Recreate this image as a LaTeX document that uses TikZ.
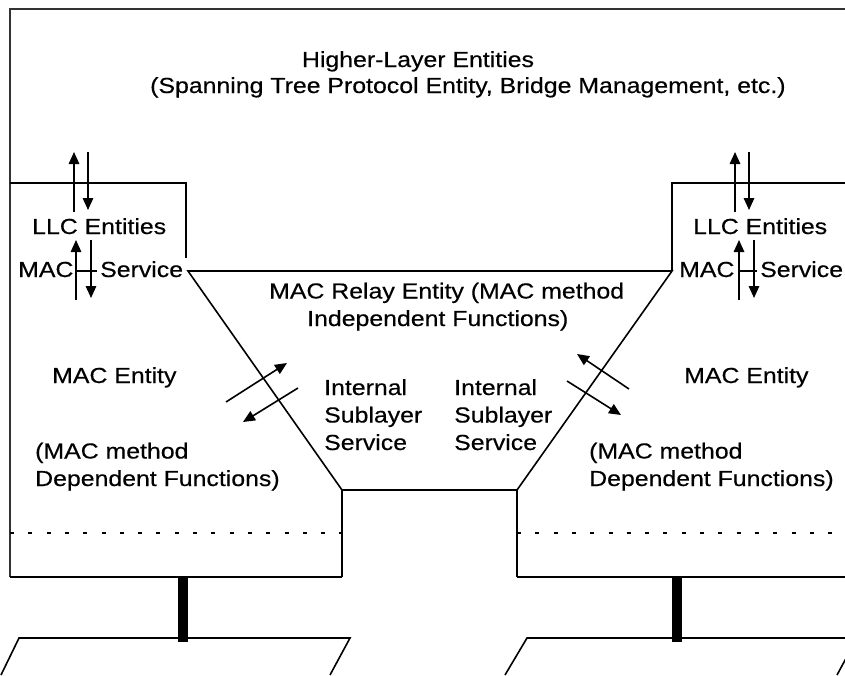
\documentclass[tikz,border=0pt]{standalone}
\usepackage{fontspec}
\setmainfont[FakeStretch=1.14,FakeBold=0.4]{Liberation Sans}
\usetikzlibrary{arrows.meta}
\begin{document}
\begin{tikzpicture}[x=1pt,y=-1pt,
  line/.style={line width=1.6pt, line join=miter},
  frame/.style={line width=1.9pt, draw=black!80},
  sig/.style={line width=1.6pt, -{Triangle[length=12pt,width=10.5pt]}},
  lbl/.style={inner sep=0pt, anchor=base west, align=left,
    font=\fontsize{21.8pt}{27.5pt}\selectfont},
  dots/.style={line width=1.6pt, dash pattern=on 4pt off 14.3pt},
  bar/.style={fill=black},
]
\useasboundingbox (0,0) rectangle (845,675);

% outer bridge frame
\draw[frame] (10,577) -- (10,9) -- (845,9);

% left port box
\draw[line] (10,183) -- (186,183) -- (186,258);
\draw[line] (10,577) -- (342,577);
% right port box
\draw[line] (845,183) -- (672,183) -- (672,271);
\draw[line] (517,577) -- (845,577);

% relay entity trapezoid
\coordinate (ta) at (188,271);
\coordinate (tb) at (672,271);
\coordinate (tc) at (517,490);
\coordinate (td) at (342,490);
\draw[line] (ta) -- (tb) -- (tc) -- (td) -- cycle;
\draw[line] (td) -- (342,577);
\draw[line] (tc) -- (517,577);

% physical layer boundaries
\draw[dots] (10,533) -- (342,533);
\draw[dots] (517,533) -- (845,533);

% attachments to the LANs
\fill[bar] (178,577) rectangle (188,642);
\fill[bar] (672,577) rectangle (682,642);
\draw[line] (1,675) -- (19,638) -- (350,638) -- (330,675);
\draw[line] (505,675) -- (527,638) -- (857,638) -- (837,675);

% texts (multi-line nodes are placed by the baseline of their last line)
\node[lbl, anchor=base] (hle) at (418,67) {Higher-Layer Entities};
\node[lbl] (hle2) at (150,93) {(Spanning Tree Protocol Entity, Bridge Management, etc.)};

\node[lbl] (llcL) at (32,234) {LLC Entities};
\node[lbl] (macL) at (18,277) {MAC};
\node[lbl] (svcL) at (100,277) {Service};
\node[lbl] (llcR) at (693,234) {LLC Entities};
\node[lbl] (macR) at (679,277) {MAC};
\node[lbl] (svcR) at (760,277) {Service};

\node[lbl] (relay) at (269,326) {MAC Relay Entity (MAC method\\\hspace*{38pt}Independent Functions)};

\node[lbl] (meL) at (52,383) {MAC Entity};
\node[lbl] (meR) at (684,383) {MAC Entity};
\node[lbl] (issL) at (324,450) {Internal\\Sublayer\\Service};
\node[lbl] (issR) at (454,450) {Internal\\Sublayer\\Service};
\node[lbl] (mdL) at (35,486) {(MAC method\\Dependent Functions)};
\node[lbl] (mdR) at (589,486) {(MAC method\\Dependent Functions)};

% service primitives, left
\draw[sig] (74,212) -- (74,152);
\draw[sig] (88,152) -- (88,210);
\draw[sig] (76,300) -- (76,240);
\draw[sig] (91,240) -- (91,298);
\draw[line] (77,271) -- (97,271);
% service primitives, right
\draw[sig] (735,212) -- (735,152);
\draw[sig] (749,152) -- (749,210);
\draw[sig] (739,300) -- (739,240);
\draw[sig] (754,240) -- (754,298);
\draw[line] (738,271) -- (757,271);

% internal sublayer service primitives
\draw[sig] (226,402) -- (287,363);
\draw[sig] (298,388) -- (243,422);
\draw[sig] (629,389) -- (577,354);
\draw[sig] (567,381) -- (621,415);
\end{tikzpicture}
\end{document}
